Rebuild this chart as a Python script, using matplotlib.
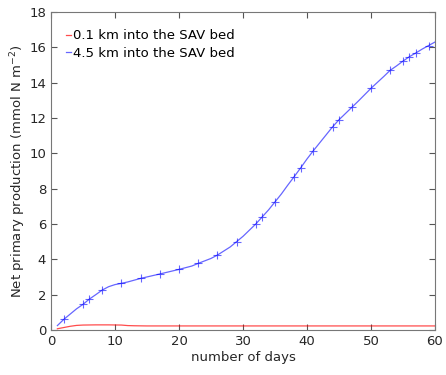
import numpy as np
import matplotlib.pyplot as plt

# net primary production read at selected days
days_far = [1, 2, 3, 4, 5, 6, 7, 8, 9, 10, 11, 12, 14, 17, 20, 22, 23, 25, 26, 28,
            29, 30, 31, 32, 33, 34, 35, 36, 37, 38, 39, 40, 41, 42, 43, 44, 45, 46,
            47, 48, 50, 52, 53, 54, 55, 56, 57, 58, 59, 60]
npp_far = [0.25, 0.6, 0.9, 1.2, 1.45, 1.75, 2.0, 2.26, 2.45, 2.57, 2.64, 2.72, 2.92,
           3.17, 3.43, 3.62, 3.77, 4.05, 4.24, 4.7, 5.0, 5.3, 5.65, 6.0, 6.4, 6.8,
           7.25, 7.7, 8.2, 8.68, 9.17, 9.68, 10.15, 10.6, 11.05, 11.5, 11.9, 12.25,
           12.6, 12.95, 13.68, 14.35, 14.7, 14.95, 15.22, 15.47, 15.68, 15.9, 16.1, 16.3]
marked_far = [2, 5, 6, 8, 11, 14, 17, 20, 23, 26, 29, 32, 33, 35, 38, 39, 41, 44,
              45, 47, 50, 53, 55, 56, 57, 59]

days_near = [1, 2, 3, 4, 5, 7, 9, 11, 12, 13, 15, 20, 30, 40, 50, 60]
npp_near = [0.07, 0.14, 0.21, 0.26, 0.28, 0.29, 0.29, 0.28, 0.25, 0.24, 0.23, 0.23,
            0.23, 0.23, 0.23, 0.23]

fig = plt.figure(figsize=(4.46, 3.75), dpi=100)
ax = fig.add_axes([0.1143, 0.12, 0.861, 0.848])

ax.plot(days_near, npp_near, color='red', lw=0.9, alpha=0.7,
        label='0.1 km into the SAV bed')
marks = [i for i, d in enumerate(days_far) if d in marked_far]
ax.plot(days_far, npp_far, color='blue', lw=0.9, alpha=0.6,
        marker='+', markersize=5.5, markeredgewidth=0.8, markevery=marks,
        label='4.5 km into the SAV bed')

ax.set_xlim(0, 60)
ax.set_ylim(0, 18)
ax.set_xticks(range(0, 61, 10))
ax.set_yticks(range(0, 19, 2))
ax.tick_params(direction='in', top=True, right=True, labelsize=9.5,
               color='#555555', labelcolor='#262626', length=4)
for s in ax.spines.values():
    s.set_color('#777777')
ax.set_xlabel('number of days', fontsize=9.5, color='#262626', labelpad=2)
ax.set_ylabel('Net primary production (mmol N m$^{-2}$)', fontsize=9.5,
              color='#262626', labelpad=1)

leg = ax.legend(loc='upper left', frameon=False, fontsize=9.5, handlelength=0.4,
                handletextpad=0.1, borderaxespad=0.3, labelspacing=0.35,
                bbox_to_anchor=(0.015, 0.975))
for h in leg.legend_handles:
    h.set_marker('')

fig.savefig('out.png', dpi=100)
